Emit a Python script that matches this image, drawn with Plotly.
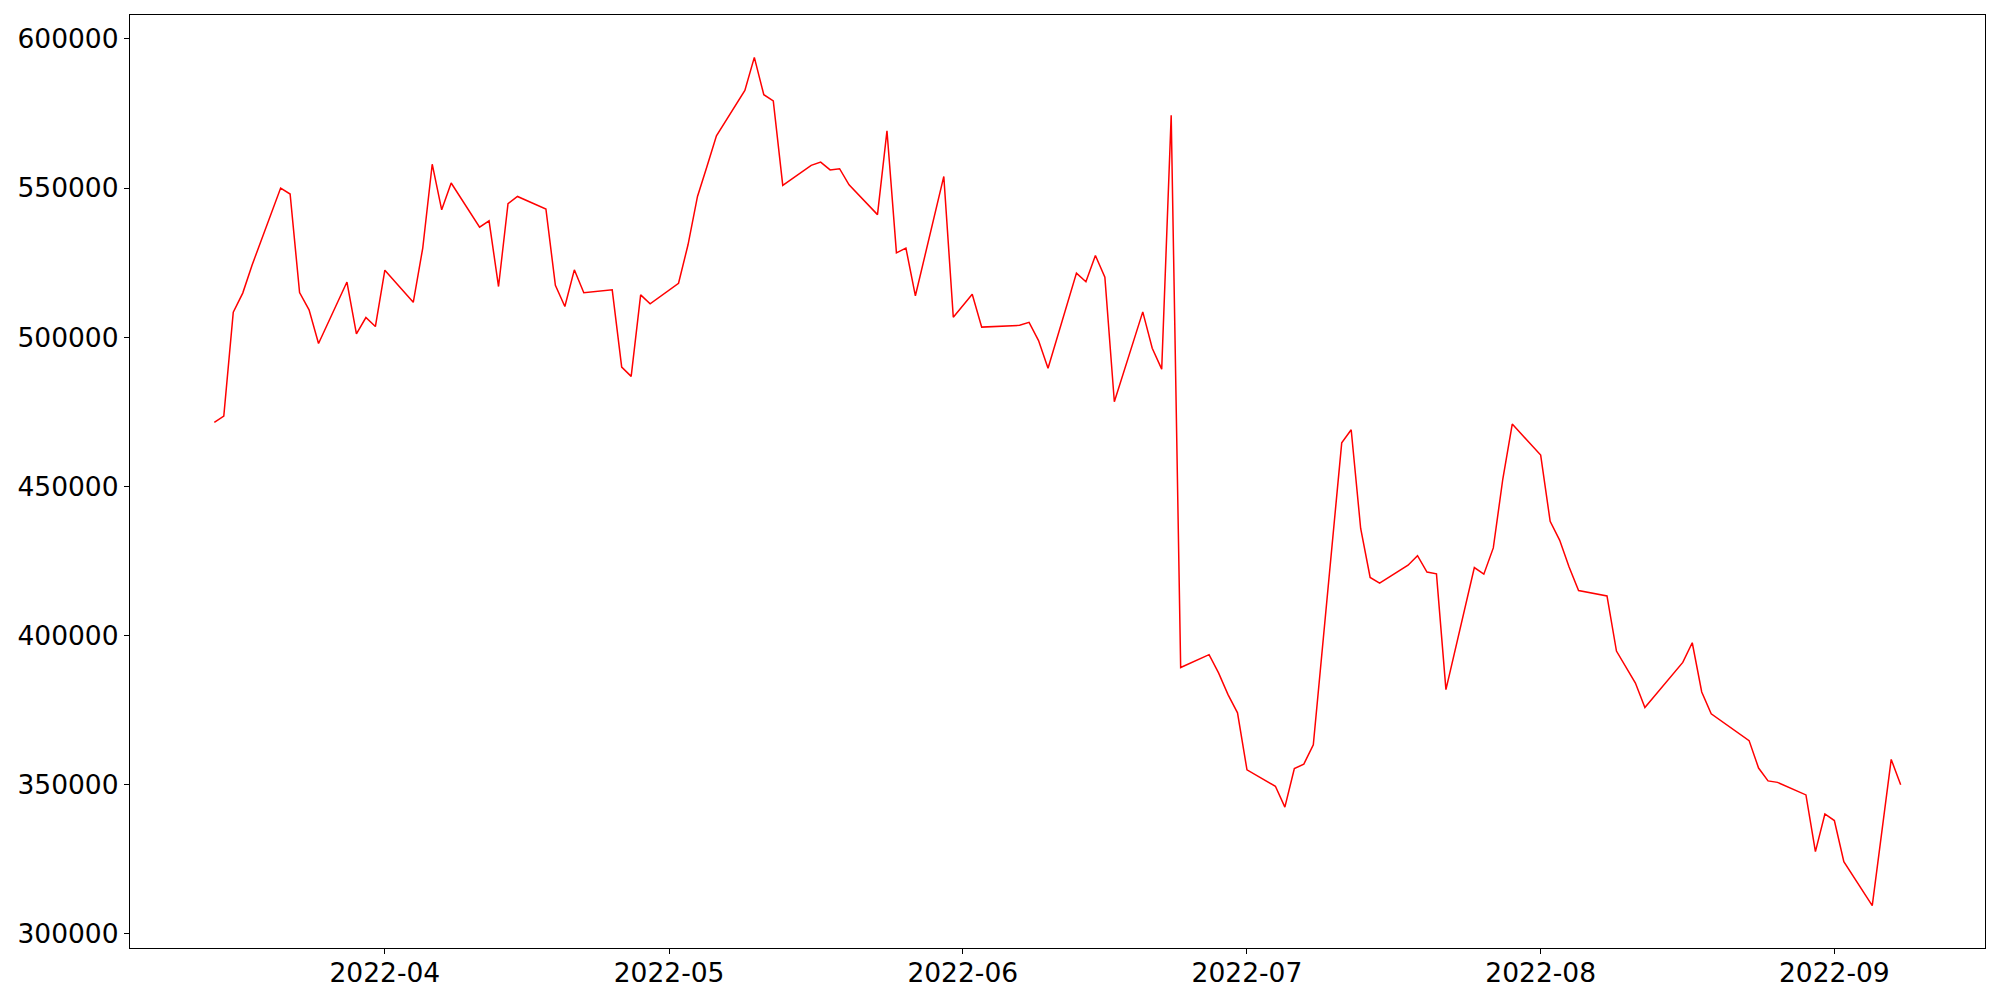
import pandas as pd
import plotly.graph_objects as go

dates = [
    "2022-03-14", "2022-03-15", "2022-03-16", "2022-03-17", "2022-03-18",
    "2022-03-21", "2022-03-22", "2022-03-23", "2022-03-24", "2022-03-25",
    "2022-03-28", "2022-03-29", "2022-03-30", "2022-03-31",
    "2022-04-01", "2022-04-04", "2022-04-05", "2022-04-06", "2022-04-07", "2022-04-08",
    "2022-04-11", "2022-04-12", "2022-04-13", "2022-04-14", "2022-04-15",
    "2022-04-18", "2022-04-19", "2022-04-20", "2022-04-21", "2022-04-22",
    "2022-04-25", "2022-04-26", "2022-04-27", "2022-04-28", "2022-04-29",
    "2022-05-02", "2022-05-03", "2022-05-04", "2022-05-05", "2022-05-06",
    "2022-05-09", "2022-05-10", "2022-05-11", "2022-05-12", "2022-05-13",
    "2022-05-16", "2022-05-17", "2022-05-18", "2022-05-19", "2022-05-20",
    "2022-05-23", "2022-05-24", "2022-05-25", "2022-05-26", "2022-05-27",
    "2022-05-30", "2022-05-31",
    "2022-06-01", "2022-06-02", "2022-06-03",
    "2022-06-06", "2022-06-07", "2022-06-08", "2022-06-09", "2022-06-10",
    "2022-06-13", "2022-06-14", "2022-06-15", "2022-06-16", "2022-06-17",
    "2022-06-20", "2022-06-21", "2022-06-22", "2022-06-23", "2022-06-24",
    "2022-06-27", "2022-06-28", "2022-06-29", "2022-06-30",
    "2022-07-01",
    "2022-07-04", "2022-07-05", "2022-07-06", "2022-07-07", "2022-07-08",
    "2022-07-11", "2022-07-12", "2022-07-13", "2022-07-14", "2022-07-15",
    "2022-07-18", "2022-07-19", "2022-07-20", "2022-07-21", "2022-07-22",
    "2022-07-25", "2022-07-26", "2022-07-27", "2022-07-28", "2022-07-29",
    "2022-08-01", "2022-08-02", "2022-08-03", "2022-08-04", "2022-08-05",
    "2022-08-08", "2022-08-09", "2022-08-10", "2022-08-11", "2022-08-12",
    "2022-08-15", "2022-08-16", "2022-08-17", "2022-08-18", "2022-08-19",
    "2022-08-22", "2022-08-23", "2022-08-24", "2022-08-25", "2022-08-26",
    "2022-08-29", "2022-08-30", "2022-08-31",
    "2022-09-01", "2022-09-02",
    "2022-09-05", "2022-09-06", "2022-09-07", "2022-09-08",
]

values = [
    471500, 473600, 508400, 514800, 524300,
    550000, 548000, 515000, 509200, 497900,
    518500, 501100, 506600, 503600,
    522500, 511700, 529900, 558000, 542700, 551700,
    536900, 539000, 517000, 544800, 547200,
    543000, 517400, 510300, 522600, 514900,
    515900, 490000, 486900, 514200, 511200,
    518100, 531000, 547200, 557200, 567500,
    582700, 593800, 581300, 579200, 550900,
    557600, 558700, 556100, 556500, 551100,
    541100, 569200, 528300, 529900, 513900,
    553900, 506700,
    510500, 514400, 503400,
    503700, 504000, 505000, 498900, 489600,
    521500, 518600, 527400, 520100, 478400,
    508500, 496300, 489300, 574400, 389300,
    393600, 387500, 380200, 374100,
    355000,
    349500, 342500, 355400, 356900, 363400,
    464600, 469000, 435900, 419500, 417600,
    423600, 426800, 421300, 420700, 381900,
    422800, 420600, 429400, 452400, 470900,
    460500, 438300, 432000, 423000, 415100,
    413300, 394800, 389400, 384100, 375900,
    387200, 391000, 397600, 381100, 373800,
    367100, 364800, 355600, 351300, 350800,
    346600, 327600, 340200,
    338000, 324200,
    309500, 334000, 358500, 350000,
]

x_ticks = ["2022-04-01", "2022-05-01", "2022-06-01", "2022-07-01", "2022-08-01", "2022-09-01"]
x_tick_labels = ["2022-04", "2022-05", "2022-06", "2022-07", "2022-08", "2022-09"]
y_ticks = [300000, 350000, 400000, 450000, 500000, 550000, 600000]

dt = pd.to_datetime(dates)
span = dt.max() - dt.min()
x_range = [dt.min() - span * 0.05, dt.max() + span * 0.05]
vspan = max(values) - min(values)
y_range = [min(values) - vspan * 0.05, max(values) + vspan * 0.05]

fig = go.Figure()
fig.add_trace(go.Scatter(x=dt, y=values, mode="lines",
                         line=dict(color="red", width=1.5), showlegend=False))

axis_common = dict(showline=True, linecolor="black", linewidth=1.2, mirror=True,
                   showgrid=False, zeroline=False, ticks="outside", ticklen=5,
                   tickwidth=1.2, tickcolor="black",
                   tickfont=dict(family="DejaVu Sans", size=26.5, color="black"))

fig.update_layout(
    width=2000, height=1000,
    margin=dict(l=122, r=23, t=7, b=60, pad=0),
    plot_bgcolor="white", paper_bgcolor="white",
    xaxis=dict(range=x_range, tickvals=pd.to_datetime(x_ticks), ticktext=x_tick_labels,
               automargin=False, ticklabelstandoff=-4, **axis_common),
    yaxis=dict(range=y_range, tickvals=y_ticks, tickformat="d", automargin=False,
               **axis_common),
)

fig.write_html("out.html")
